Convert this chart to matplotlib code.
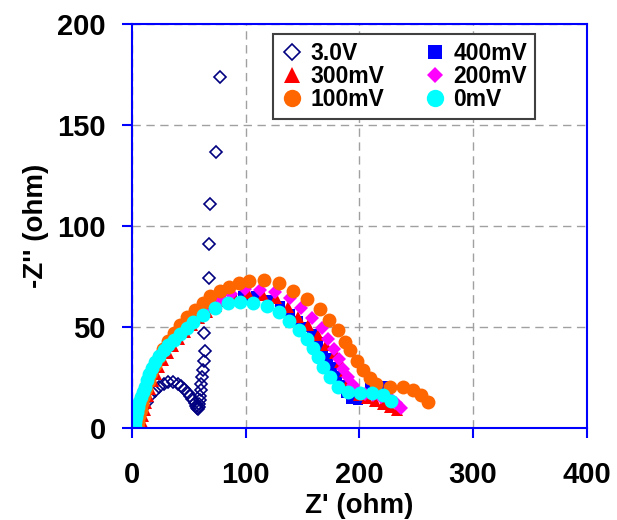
import matplotlib
matplotlib.use("Agg")
import matplotlib.pyplot as plt

plt.rcParams['font.family'] = ['Liberation Sans', 'DejaVu Sans']
plt.rcParams['font.weight'] = 'bold'

# 3.0V
x_30 = [4, 6, 8, 10, 13, 16, 20, 24, 28, 32, 36, 40, 43, 46, 49, 51, 53, 55,
        56, 57, 58, 58.5, 59, 59.5, 60, 60.5, 61, 61.5, 62, 63, 64, 63.5, 66,
        68, 68, 69, 74, 77.5]
y_30 = [1, 4, 7, 10, 13, 16, 18.5, 20.5, 22, 22.8, 22.8, 22, 21, 19.5, 17.5,
        16, 14.5, 12.5, 11, 10, 9.5, 10.5, 12, 14, 16, 19, 22, 25, 28.5, 33,
        38, 47, 60, 74, 91, 111, 136.5, 173.5]

# 400mV
x_400 = [4, 5, 6, 7.5, 9, 11, 13, 15.5, 18, 21, 24.5, 28.5, 33, 38, 43.5,
         49.5, 56, 63, 70.5, 79, 88, 98, 109, 120, 130, 139, 146, 152, 158,
         163.5, 168, 172, 176, 180, 184, 188, 193, 199, 204, 209, 215, 221, 226]
y_400 = [0, 3, 6, 9.5, 13, 16.5, 20, 23.5, 27, 30.5, 34, 37.5, 41, 44.5, 48,
         51.5, 55, 58, 60.5, 62.5, 64.5, 65.5, 65.5, 63.5, 60.5, 56.5, 53, 50,
         46.5, 42.5, 38.5, 34.5, 30, 25.5, 21.5, 17.5, 14.5, 14, 16.5, 20, 21,
         21, 20]

# 300mV
x_300 = [8, 9, 10, 11, 12.5, 14, 16, 18.5, 21, 24, 27.5, 31.5, 36, 41, 46.5,
         52.5, 59, 66, 73.5, 81.5, 90, 102, 115.4, 127, 137.4, 146, 155, 163.8,
         171, 178.5, 183, 187, 191, 195, 200, 207, 214, 221, 227, 233]
y_300 = [0, 3, 6, 9, 12.5, 16, 19.5, 23, 26.5, 30, 33.5, 37, 40.5, 44, 47.5,
         51, 54.5, 57.5, 60.5, 63, 65, 66.7, 65.8, 64.2, 60, 55, 51, 46, 41,
         37, 32.5, 28, 23.5, 19.5, 16.5, 15, 13.5, 12, 10.5, 9]

# 200mV
x_200 = [5, 5.5, 6.5, 7.5, 9, 10.5, 12.5, 14.5, 17, 20, 23.5, 27.5, 32, 37,
         42.5, 48.5, 55, 62, 70, 78, 87, 99, 112.5, 126, 139, 149, 158, 166.8,
         172.5, 178, 182, 186, 190, 194, 198, 205, 212, 219, 226.8, 232, 237]
y_200 = [0, 3, 6, 9, 12.5, 16, 19.5, 23, 27, 30.5, 34, 38, 41.5, 45, 48.5,
         52, 55.5, 58.5, 61.5, 64, 66.5, 68.7, 68.3, 67.3, 64.2, 59.5, 54.3,
         49.3, 44, 39, 34, 29, 25, 21.5, 18.5, 17, 16.3, 15.5, 14.7, 12.5, 9.7]

# 100mV
x_100 = [5, 5.5, 6.5, 7.5, 9, 10.5, 12.5, 14.5, 17, 20, 23.5, 27.5, 32, 37,
         42.5, 48.5, 55, 62, 69, 77, 85, 94, 103, 116, 129, 142, 153.5, 165,
         173, 181, 187, 191.6, 197.5, 203.3, 209, 215, 226.8, 238.5, 247.3,
         254.6, 260]
y_100 = [0, 3, 6, 9, 12.5, 16, 19.5, 23, 27, 31, 35, 39, 43, 47, 51, 55,
         58.5, 62, 65.5, 68, 70, 71.8, 72.7, 73.3, 71.6, 68, 64, 59, 53.5, 48.3,
         42.7, 38.6, 33, 28.7, 24.6, 22, 20.5, 20.4, 18.8, 16.3, 13]

# 0mV
x_0 = [2.5, 3, 3.7, 4.5, 5.5, 6.5, 8, 9.5, 11, 13, 15, 17.5, 20.5, 24, 28,
       32, 36.5, 42, 48, 54, 62.7, 73, 84.7, 95, 106.7, 118.4, 129.5, 138.5,
       147, 154, 159.4, 163.8, 168.2, 174, 181.4, 190, 200.4, 210.7, 221, 228]
y_0 = [0.5, 3, 5.5, 8, 10.5, 13, 15.5, 18, 20.5, 23.5, 26.5, 29.5, 32.5,
       35.5, 38.5, 41, 43.5, 46.5, 49.5, 52.6, 55.9, 59.6, 62, 62.5, 62, 60.2,
       57.3, 52.8, 48.3, 43.8, 39.6, 35.3, 30.4, 25.4, 20.4, 18, 17.2, 17.2,
       16.3, 13.5]

x_ticks = [0, 100, 200, 300, 400]
y_ticks = [0, 50, 100, 150, 200]

fig = plt.figure(figsize=(6.17, 5.2), dpi=100)
ax = fig.add_axes([0.214, 0.177, 0.737, 0.777])

h30, = ax.plot(x_30, y_30, 'D', color='#000080', mfc='none', ms=6.3, mew=1.2,
               label='3.0V')
h400, = ax.plot(x_400, y_400, 's', color='#0000ff', ms=7.5, mew=0, label='400mV')
h300, = ax.plot(x_300, y_300, '^', color='#ff0000', ms=9, mew=0, label='300mV')
h200, = ax.plot(x_200, y_200, 'D', color='#ff00ff', ms=6.8, mew=0, label='200mV')
h100, = ax.plot(x_100, y_100, 'o', color='#ff6600', ms=10, mew=0, label='100mV')
h0, = ax.plot(x_0, y_0, 'o', color='#00ffff', ms=10, mew=0, label='0mV')

ax.set_xlim(0, 400)
ax.set_ylim(0, 200)
ax.set_xticks(x_ticks)
ax.set_yticks(y_ticks)
ax.grid(True, color='#a0a0a0', linestyle=(0, (6, 4)), linewidth=1)
ax.set_axisbelow(True)
for s in ax.spines.values():
    s.set_color('#0000ff')
    s.set_linewidth(1.5)
ax.tick_params(axis='x', colors='#0000ff', labelcolor='black', direction='out',
               length=7, width=1.5, pad=17, labelsize=21)
ax.tick_params(axis='y', colors='#0000ff', labelcolor='black', direction='out',
               length=7, width=1.5, pad=12, labelsize=21)
ax.set_xlabel("Z' (ohm)", fontsize=20, fontweight='bold', labelpad=3)
ax.set_ylabel("-Z'' (ohm)", fontsize=20, fontweight='bold', labelpad=6)

leg = ax.legend([h30, h300, h100, h400, h200, h0],
                ['3.0V', '300mV', '100mV', '400mV', '200mV', '0mV'],
                ncol=2, loc='upper left', bbox_to_anchor=(0.31, 0.975),
                fancybox=False, edgecolor='#404040', framealpha=1,
                prop={'size': 16.5, 'weight': 'bold'}, handlelength=1,
                markerscale=1.25, handletextpad=0.3, columnspacing=1.7,
                labelspacing=0, borderpad=0.35, borderaxespad=0)
leg.get_frame().set_linewidth(1.5)

fig.savefig('out.png', dpi=100)
